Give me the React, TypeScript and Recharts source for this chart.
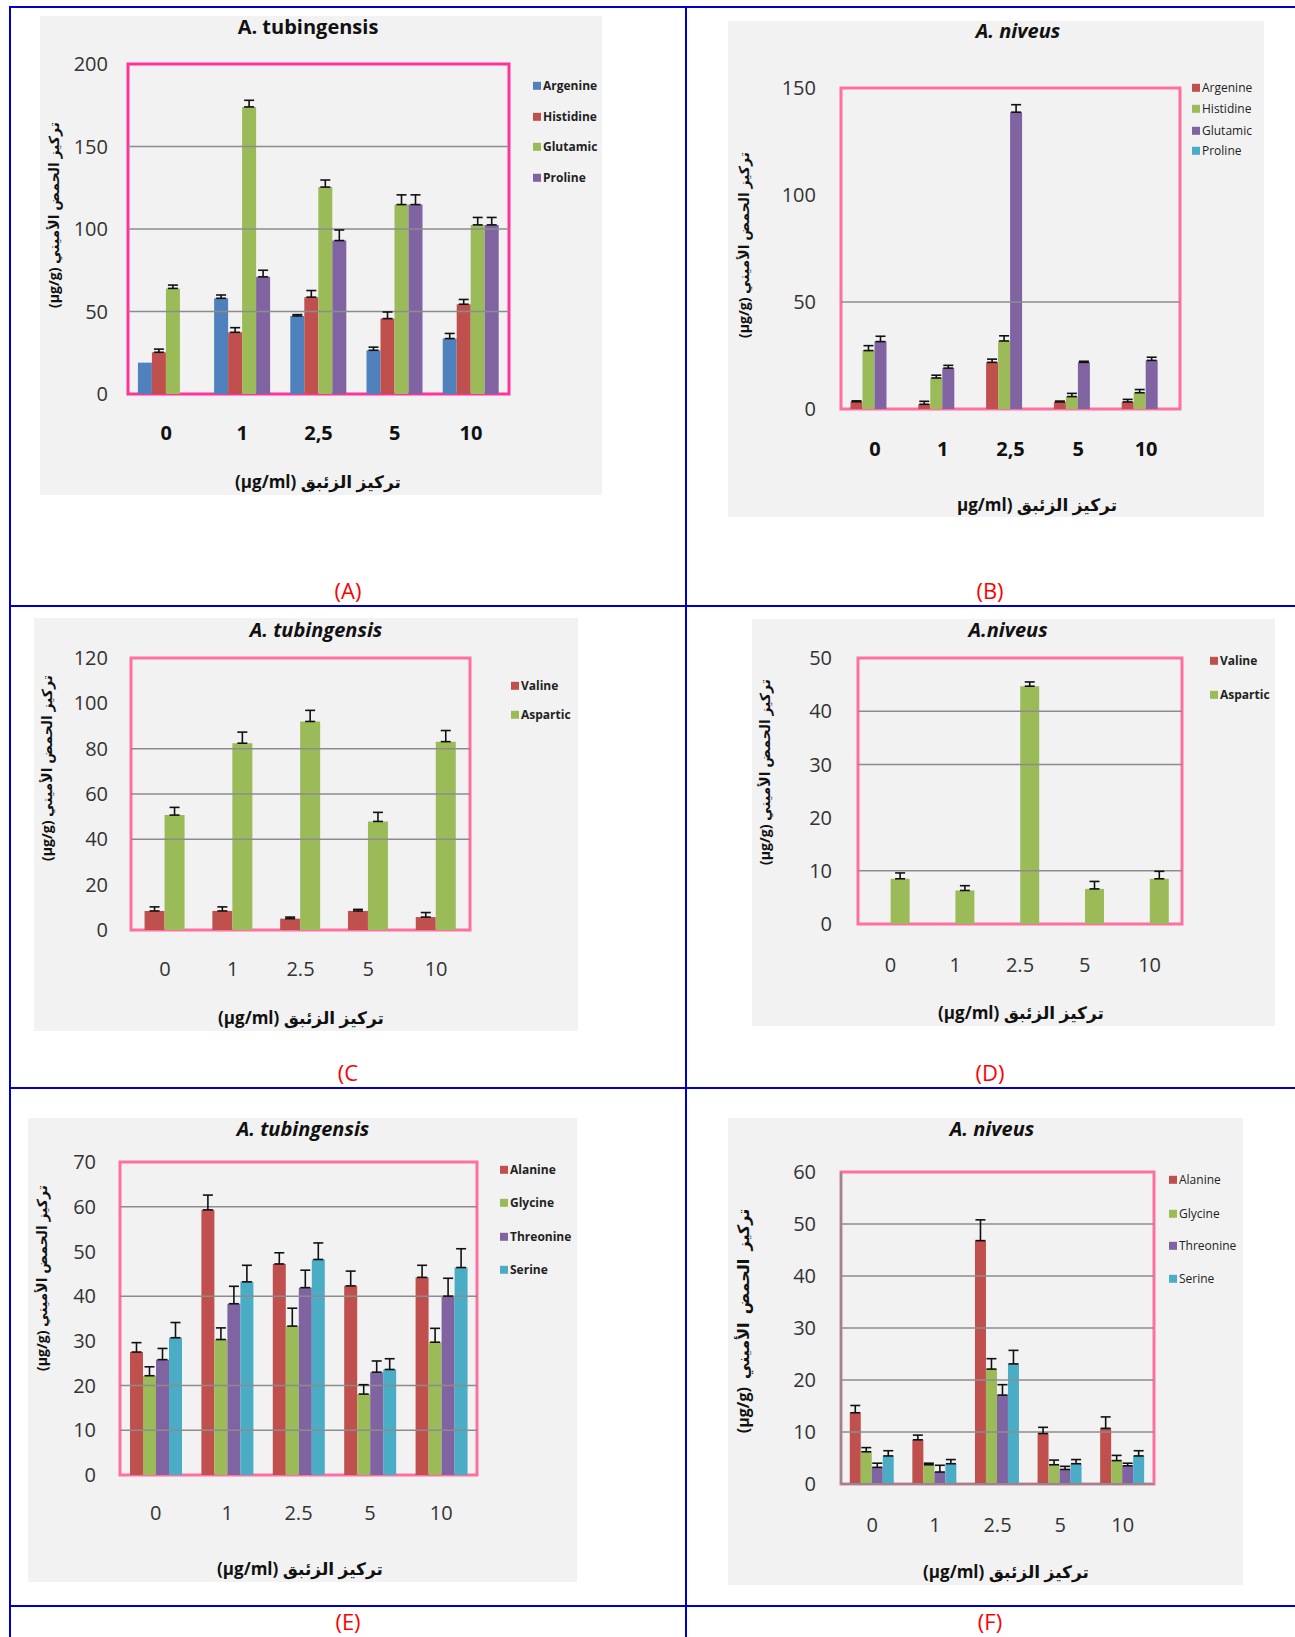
import React from "react";
import { Bar, BarChart, ErrorBar, ReferenceArea, ReferenceLine, XAxis, YAxis } from "recharts";

const FONT = "'Open Sans', 'DejaVu Sans', sans-serif";
const BLUE = "#4F81BD";
const RED = "#C0504D";
const GREEN = "#9BBB59";
const PURPLE = "#8064A2";
const CYAN = "#4BACC6";

// mercury dose (µg/ml)
const dosesComma = ["0", "1", "2,5", "5", "10"];
const dosesDot = ["0", "1", "2.5", "5", "10"];

// (A) A. tubingensis
const argA = [19, 58, 47.3, 26.5, 33.6];
const argErrA = [0, 2, 0.8, 1.9, 3.1];
const hisA = [25.3, 37.4, 58.7, 45.7, 54.4];
const hisErrA = [1.9, 2.8, 4, 4, 2.9];
const gluA = [64, 174, 125.4, 114.8, 102.5];
const gluErrA = [2, 4, 4.3, 5.9, 4.5];
const proA = [0, 71, 93, 114.8, 102.5];
const proErrA = [0, 4, 6.4, 5.9, 4.5];
const ticksA = [0, 50, 100, 150, 200];
const gridA = [50, 100, 150];

// (B) A. niveus
const argB = [3.4, 2.2, 21.8, 3.3, 3.3];
const argErrB = [0.4, 1.4, 1.5, 0.4, 1.2];
const hisB = [27.3, 14.5, 31.8, 5.8, 7.6];
const hisErrB = [2.3, 1.3, 2.4, 1.5, 1.5];
const gluB = [31.5, 19.1, 138.7, 21.8, 22.7];
const gluErrB = [2.5, 1.3, 3.5, 0.5, 1.5];
const proB = [0, 0, 0, 0, 0];
const proErrB = [0, 0, 0, 0, 0];
const ticksB = [0, 50, 100, 150];
const gridB = [50];

// (C) A. tubingensis
const valC = [8.4, 8.4, 5.0, 8.4, 5.7];
const valErrC = [1.8, 1.8, 0.7, 0.7, 2.0];
const aspC = [50.7, 82.4, 92, 47.9, 83.1];
const aspErrC = [3.4, 4.9, 4.9, 4.0, 4.9];
const ticksC = [0, 20, 40, 60, 80, 100, 120];
const gridC = [40, 60, 80];

// (D) A. niveus
const valD = [0, 0, 0, 0, 0];
const valErrD = [0, 0, 0, 0, 0];
const aspD = [8.5, 6.3, 44.7, 6.6, 8.5];
const aspErrD = [1.1, 0.9, 0.8, 1.4, 1.4];
const ticksD = [0, 10, 20, 30, 40, 50];
const gridD = [10, 30, 40];

// (E) A. tubingensis
const alaE = [27.5, 59.3, 47.2, 42.3, 44.2];
const alaErrE = [2.1, 3.3, 2.5, 3.3, 2.7];
const glyE = [22.2, 30.3, 33.3, 18.1, 29.7];
const glyErrE = [2.0, 2.6, 4.0, 2.1, 3.1];
const thrE = [25.8, 38.3, 41.9, 23.0, 40.0];
const thrErrE = [2.5, 3.9, 3.9, 2.5, 4.0];
const serE = [30.7, 43.2, 48.2, 23.6, 46.4];
const serErrE = [3.4, 3.7, 3.7, 2.4, 4.2];
const ticksE = [0, 10, 20, 30, 40, 50, 60, 70];
const gridE = [10, 20, 40, 60];

// (F) A. niveus
const alaF = [13.7, 8.5, 46.8, 9.7, 10.7];
const alaErrF = [1.4, 0.9, 4.0, 1.2, 2.2];
const glyF = [6.2, 3.7, 22.1, 3.7, 4.5];
const glyErrF = [0.8, 0.3, 2.0, 0.9, 1.0];
const thrF = [3.2, 2.3, 17.1, 2.8, 3.5];
const thrErrF = [0.8, 1.3, 2.0, 0.6, 0.5];
const serF = [5.4, 3.9, 23.1, 3.9, 5.4];
const serErrF = [1.0, 0.8, 2.6, 0.8, 1.0];
const ticksF = [0, 10, 20, 30, 40, 50, 60];
const gridF = [10, 20, 30, 40, 50];

const Y_TITLE = "(µg/g) تركيز الحمض الأميني";
const X_TITLE = "(µg/ml) تركيز الزئبق";

type Series = { name: string; color: string; values: number[]; errors: number[] };
type Box = { l: number; t: number; r: number; b: number };

type PanelSpec = {
  bg: Box;
  plot: Box;
  cats: string[];
  series: Series[];
  ticks: number[];
  grid: number[];
  frame: string;
  frameWidth: number;
  grayAxes?: boolean;
  gap: string;
  title: string;
  titleX: number;
  titleY: number;
  titleItalic: boolean;
  xBold: boolean;
  xMargin: number;
  yMargin: number;
  legendX: number;
  legendYs: number[];
  legendWeight: number;
  yTitleX: number;
  yTitleY: number;
  yTitleSize?: number;
  yTitleWordSpacing?: number;
  xTitle: string;
  xTitleX: number;
  xTitleY: number;
  tag: string;
  tagX: number;
  tagY: number;
};

function toRows(cats: string[], series: Series[]) {
  return cats.map((c, i) => {
    const row: Record<string, unknown> = { cat: c };
    series.forEach((s, k) => {
      row[`v${k}`] = s.values[i];
      row[`e${k}`] = s.errors[i] > 0 ? [0, s.errors[i]] : null;
    });
    return row;
  });
}

const abs = (x: number, y: number): React.CSSProperties => ({ position: "absolute", left: x, top: y });

function Panel({ p }: { p: PanelSpec }) {
  const w = p.bg.r - p.bg.l;
  const h = p.bg.b - p.bg.t;
  const rows = toRows(p.cats, p.series);
  const yMax = p.ticks[p.ticks.length - 1];
  const grayLine = { stroke: "#8C8C8C", strokeWidth: 2 };

  return (
    <>
      <div
        style={{
          position: "absolute",
          left: p.bg.l,
          top: p.bg.t,
          width: w,
          height: h,
          background: "#F2F2F2",
        }}
      >
        <BarChart
          width={w}
          height={h}
          data={rows}
          barGap={0}
          barCategoryGap={p.gap}
          margin={{ top: p.plot.t - p.bg.t, right: p.bg.r - p.plot.r, bottom: 0, left: 0 }}
        >
          <ReferenceArea
            y1={0}
            y2={yMax}
            fill="none"
            stroke={p.frame}
            strokeWidth={p.frameWidth}
            ifOverflow="visible"
          />
          {p.grid.map((g) => (
            <ReferenceLine key={g} y={g} stroke="#8C8C8C" strokeWidth={1.5} />
          ))}
          <XAxis
            dataKey="cat"
            interval={0}
            height={p.bg.b - p.plot.b}
            axisLine={p.grayAxes ? grayLine : false}
            tickLine={false}
            tickSize={0}
            tickMargin={p.xMargin}
            tick={{ fontSize: 20, fill: p.xBold ? "#111" : "#333", fontWeight: p.xBold ? 700 : 400, fontFamily: FONT }}
          />
          <YAxis
            type="number"
            domain={[0, yMax]}
            ticks={p.ticks}
            interval={0}
            width={p.plot.l - p.bg.l}
            axisLine={p.grayAxes ? grayLine : false}
            tickLine={false}
            tickSize={0}
            tickMargin={p.yMargin}
            tick={{ fontSize: 20, fill: "#333", fontFamily: FONT }}
          />
          {p.series.map((s, k) => (
            <Bar key={s.name} dataKey={`v${k}`} fill={s.color} isAnimationActive={false}>
              <ErrorBar dataKey={`e${k}`} width={5} stroke="#111" strokeWidth={1.6} direction="y" />
            </Bar>
          ))}
        </BarChart>
      </div>

      <div
        style={{
          ...abs(p.titleX, p.titleY),
          transform: "translate(-50%, -50%)",
          fontSize: 20,
          fontWeight: 700,
          fontStyle: p.titleItalic ? "italic" : "normal",
          color: "#111",
          whiteSpace: "nowrap",
          lineHeight: 1.2,
        }}
      >
        {p.title}
      </div>

      {p.series.map((s, k) => (
        <div
          key={s.name}
          style={{
            ...abs(p.legendX, p.legendYs[k]),
            transform: "translateY(-50%)",
            display: "flex",
            alignItems: "center",
            whiteSpace: "nowrap",
            fontSize: 12,
            fontWeight: p.legendWeight,
            color: "#222",
            lineHeight: 1.2,
          }}
        >
          <span style={{ display: "inline-block", width: 8, height: 8, background: s.color, marginRight: 2 }} />
          {s.name}
        </div>
      ))}

      <div
        style={{
          ...abs(p.yTitleX, p.yTitleY),
          transform: "translate(-50%, -50%) rotate(-90deg)",
          fontSize: p.yTitleSize ?? 14,
          fontWeight: 700,
          color: "#111",
          whiteSpace: "nowrap",
          wordSpacing: p.yTitleWordSpacing ?? 0,
          lineHeight: 1.2,
        }}
      >
        {Y_TITLE}
      </div>

      <div
        style={{
          ...abs(p.xTitleX, p.xTitleY),
          transform: "translate(-50%, -50%)",
          fontSize: 17,
          fontWeight: 700,
          color: "#111",
          whiteSpace: "nowrap",
          lineHeight: 1.2,
        }}
      >
        {p.xTitle}
      </div>

      <div
        style={{
          ...abs(p.tagX, p.tagY),
          transform: "translate(-50%, -50%)",
          fontSize: 22,
          color: "#FF0000",
          whiteSpace: "nowrap",
          lineHeight: 1,
        }}
      >
        {p.tag}
      </div>
    </>
  );
}

const PINK_A = "#FF3399";
const PINK = "#FF6F9F";

const panels: PanelSpec[] = [
  {
    bg: { l: 40, t: 16, r: 602, b: 495 },
    plot: { l: 128, t: 64, r: 509, b: 394 },
    cats: dosesComma,
    series: [
      { name: "Argenine", color: BLUE, values: argA, errors: argErrA },
      { name: "Histidine", color: RED, values: hisA, errors: hisErrA },
      { name: "Glutamic", color: GREEN, values: gluA, errors: gluErrA },
      { name: "Proline", color: PURPLE, values: proA, errors: proErrA },
    ],
    ticks: ticksA,
    grid: gridA,
    frame: PINK_A,
    frameWidth: 3,
    gap: "13%",
    title: "A. tubingensis",
    titleX: 308,
    titleY: 27,
    titleItalic: false,
    xBold: true,
    xMargin: 32,
    yMargin: 20,
    legendX: 533,
    legendYs: [86, 117, 147, 178],
    legendWeight: 700,
    yTitleX: 54,
    yTitleY: 215,
    xTitle: X_TITLE,
    xTitleX: 318,
    xTitleY: 482,
    tag: "(A)",
    tagX: 348,
    tagY: 590,
  },
  {
    bg: { l: 728, t: 21, r: 1264, b: 517 },
    plot: { l: 841, t: 88, r: 1180, b: 409 },
    cats: dosesComma,
    series: [
      { name: "Argenine", color: RED, values: argB, errors: argErrB },
      { name: "Histidine", color: GREEN, values: hisB, errors: hisErrB },
      { name: "Glutamic", color: PURPLE, values: gluB, errors: gluErrB },
      { name: "Proline", color: CYAN, values: proB, errors: proErrB },
    ],
    ticks: ticksB,
    grid: gridB,
    frame: PINK,
    frameWidth: 3,
    gap: "14%",
    title: "A. niveus",
    titleX: 1018,
    titleY: 31,
    titleItalic: true,
    xBold: true,
    xMargin: 33,
    yMargin: 25,
    legendX: 1192,
    legendYs: [88, 109, 131, 151],
    legendWeight: 400,
    yTitleX: 744,
    yTitleY: 245,
    xTitle: "µg/ml) تركيز الزئبق",
    xTitleX: 1037,
    xTitleY: 505,
    tag: "(B)",
    tagX: 990,
    tagY: 590,
  },
  {
    bg: { l: 34, t: 618, r: 578, b: 1031 },
    plot: { l: 131, t: 658, r: 470, b: 930 },
    cats: dosesDot,
    series: [
      { name: "Valine", color: RED, values: valC, errors: valErrC },
      { name: "Aspartic", color: GREEN, values: aspC, errors: aspErrC },
    ],
    ticks: ticksC,
    grid: gridC,
    frame: PINK,
    frameWidth: 3,
    gap: "20%",
    title: "A. tubingensis",
    titleX: 316,
    titleY: 630,
    titleItalic: true,
    xBold: false,
    xMargin: 32,
    yMargin: 23,
    legendX: 511,
    legendYs: [686, 715],
    legendWeight: 700,
    yTitleX: 47,
    yTitleY: 768,
    xTitle: X_TITLE,
    xTitleX: 301,
    xTitleY: 1018,
    tag: "(C",
    tagX: 348,
    tagY: 1072,
  },
  {
    bg: { l: 752, t: 619, r: 1275, b: 1026 },
    plot: { l: 858, t: 658, r: 1182, b: 924 },
    cats: dosesDot,
    series: [
      { name: "Valine", color: RED, values: valD, errors: valErrD },
      { name: "Aspartic", color: GREEN, values: aspD, errors: aspErrD },
    ],
    ticks: ticksD,
    grid: gridD,
    frame: PINK,
    frameWidth: 3,
    gap: "21%",
    title: "A.niveus",
    titleX: 1008,
    titleY: 630,
    titleItalic: true,
    xBold: false,
    xMargin: 34,
    yMargin: 26,
    legendX: 1210,
    legendYs: [661, 695],
    legendWeight: 700,
    yTitleX: 765,
    yTitleY: 772,
    xTitle: X_TITLE,
    xTitleX: 1021,
    xTitleY: 1013,
    tag: "(D)",
    tagX: 990,
    tagY: 1072,
  },
  {
    bg: { l: 28, t: 1118, r: 577, b: 1582 },
    plot: { l: 120, t: 1162, r: 477, b: 1475 },
    cats: dosesDot,
    series: [
      { name: "Alanine", color: RED, values: alaE, errors: alaErrE },
      { name: "Glycine", color: GREEN, values: glyE, errors: glyErrE },
      { name: "Threonine", color: PURPLE, values: thrE, errors: thrErrE },
      { name: "Serine", color: CYAN, values: serE, errors: serErrE },
    ],
    ticks: ticksE,
    grid: gridE,
    frame: PINK,
    frameWidth: 3,
    gap: "14%",
    title: "A. tubingensis",
    titleX: 303,
    titleY: 1129,
    titleItalic: true,
    xBold: false,
    xMargin: 31,
    yMargin: 24,
    legendX: 500,
    legendYs: [1170, 1203, 1237, 1270],
    legendWeight: 700,
    yTitleX: 42,
    yTitleY: 1278,
    xTitle: X_TITLE,
    xTitleX: 300,
    xTitleY: 1569,
    tag: "(E)",
    tagX: 348,
    tagY: 1621,
  },
  {
    bg: { l: 728, t: 1118, r: 1243, b: 1585 },
    plot: { l: 841, t: 1172, r: 1154, b: 1484 },
    cats: dosesDot,
    series: [
      { name: "Alanine", color: RED, values: alaF, errors: alaErrF },
      { name: "Glycine", color: GREEN, values: glyF, errors: glyErrF },
      { name: "Threonine", color: PURPLE, values: thrF, errors: thrErrF },
      { name: "Serine", color: CYAN, values: serF, errors: serErrF },
    ],
    ticks: ticksF,
    grid: gridF,
    frame: PINK,
    frameWidth: 3,
    grayAxes: true,
    gap: "14%",
    title: "A. niveus",
    titleX: 992,
    titleY: 1129,
    titleItalic: true,
    xBold: false,
    xMargin: 34,
    yMargin: 25,
    legendX: 1169,
    legendYs: [1180, 1214, 1246, 1279],
    legendWeight: 400,
    yTitleX: 744,
    yTitleY: 1321,
    yTitleSize: 16,
    yTitleWordSpacing: 4,
    xTitle: X_TITLE,
    xTitleX: 1006,
    xTitleY: 1572,
    tag: "(F)",
    tagX: 990,
    tagY: 1621,
  },
];

const LINE = "#0000CC";

export default function App() {
  return (
    <div
      style={{
        position: "relative",
        width: 1295,
        height: 1637,
        background: "#fff",
        overflow: "hidden",
        fontFamily: FONT,
      }}
    >
      <style>{"body{margin:0}"}</style>
      {/* table borders */}
      <div style={{ position: "absolute", left: 10, top: 6, width: 1285, height: 2, background: LINE }} />
      <div style={{ position: "absolute", left: 9, top: 6, width: 2, height: 1631, background: LINE }} />
      <div style={{ position: "absolute", left: 685, top: 6, width: 2, height: 1631, background: LINE }} />
      <div style={{ position: "absolute", left: 10, top: 605, width: 1285, height: 2, background: LINE }} />
      <div style={{ position: "absolute", left: 10, top: 1087, width: 1285, height: 2, background: LINE }} />
      <div style={{ position: "absolute", left: 10, top: 1605, width: 1285, height: 2, background: LINE }} />

      {panels.map((p) => (
        <Panel key={p.tag} p={p} />
      ))}
    </div>
  );
}
